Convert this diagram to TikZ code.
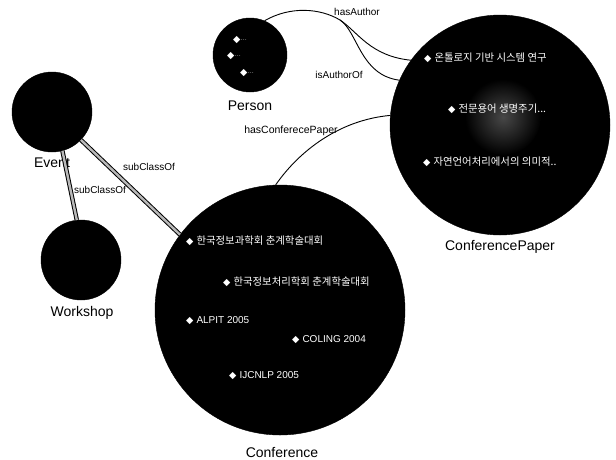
\documentclass[tikz,border=0pt]{standalone}
\usepackage{fontspec}
\setmainfont{Liberation Sans}
\newfontfamily\krfont{Noto Sans CJK KR}
\newfontfamily\symfont{DejaVu Sans}
\newcommand\dmd{{\symfont\fontsize{9.5}{9.5}\selectfont ◆}\hspace{3pt}}
\begin{document}
\begin{tikzpicture}[x=1pt,y=-1pt,
  cls/.style={circle,fill=black,draw=black,inner sep=0pt},
  clslabel/.style={font=\fontsize{14}{16}\selectfont,inner sep=0pt},
  rel/.style={font=\fontsize{10}{12}\selectfont,inner sep=0pt},
  item/.style={text=white,anchor=west,inner sep=0pt,font=\fontsize{10}{12}\selectfont},
  kritem/.style={item,font=\krfont\fontsize{10.4}{12}\selectfont},
  dots/.style={anchor=west,inner sep=0pt,text=gray!70,font=\fontsize{7}{8}\selectfont},
  subrel/.style={draw=black,line width=1pt,double=gray!55,double distance=2.4pt},
  prop/.style={draw=black,line width=0.9pt}]
\fill[white] (0,0) rectangle (616,459);
\useasboundingbox (0,0) rectangle (616,459);

% classes
\node[cls,minimum size=74pt]  (person)   at (250,55)  {};
\node[cls,minimum size=80pt]  (event)    at (52,112)  {};
\node[cls,minimum size=80pt]  (workshop) at (81,260)  {};
\node[cls,minimum size=220pt] (paper)    at (500,125) {};
\node[cls,minimum size=250pt] (conf)     at (280,310) {};

% highlighted instance inside ConferencePaper
\shade[inner color=black!72,outer color=black] (503,117) circle (38);

% class names
\node[clslabel] (personlbl)   at (250,106) {Person};
\node[clslabel] (eventlbl)    at (52,163)  {Event};
\node[clslabel] (workshoplbl) at (82,313)  {Workshop};
\node[clslabel] (paperlbl)    at (500,247) {ConferencePaper};
\node[clslabel] (conflbl)     at (282,452) {Conference};

% instances of Person
\node[item] (p1) at (233,40) {\dmd};
\node[dots] (p1t) at (p1.east) {...};
\node[item] (p2) at (227,56) {\dmd};
\node[dots] (p2t) at (p2.east) {...};
\node[item] (p3) at (240,73) {\dmd};
\node[dots] (p3t) at (p3.east) {...};

% instances of ConferencePaper
\node[kritem] (cp1) at (424,58)  {\dmd 온톨로지 기반 시스템 연구};
\node[kritem] (cp2) at (448,109) {\dmd 전문용어 생명주기...};
\node[kritem] (cp3) at (423,162) {\dmd 자연언어처리에서의 의미적..};

% instances of Conference
\node[kritem] (c1) at (186,241) {\dmd 한국정보과학회 춘계학술대회};
\node[kritem] (c2) at (223,282) {\dmd 한국정보처리학회 춘계학술대회};
\node[item]   (c3) at (186,321) {\dmd ALPIT 2005};
\node[item]   (c4) at (292,340) {\dmd COLING 2004};
\node[item]   (c5) at (229,376) {\dmd IJCNLP 2005};

% subclass links
\draw[subrel] (event.-75) -- (workshop.96);
\draw[subrel] (event.-44) -- (conf.143);
\node[rel] (sub1) at (100,190) {subClassOf};
\node[rel] (sub2) at (149,167) {subClassOf};

% object properties
\coordinate (split) at (340,20);
\draw[prop] (person.67) .. controls (290,6) and (320,8) .. (split)
            .. controls (358,32) and (370,56) .. (paper.144);
\draw[prop] (split) .. controls (358,32) and (360,75) .. (paper.156);
\draw[prop] (conf.92) .. controls (300,150) and (340,120) .. (paper.175);
\node[rel] (hasauthor)  at (357,12)  {hasAuthor};
\node[rel] (isauthorof) at (339,75)  {isAuthorOf};
\node[rel,font=\fontsize{10.5}{12}\selectfont] (hascp) at (291,131) {hasConferecePaper};
\end{tikzpicture}
\end{document}
